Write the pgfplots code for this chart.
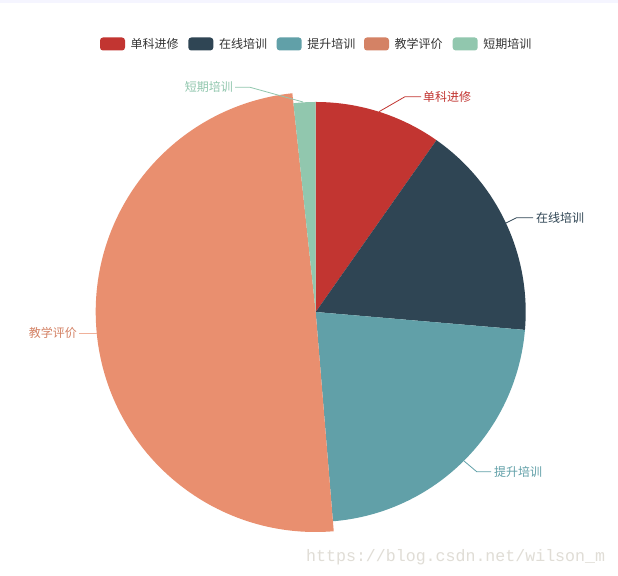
\documentclass[border=0pt]{standalone}
\usepackage{pgfplots}
\usepackage{pgfplotstable}
\pgfplotsset{compat=1.18}
\usepackage{fontspec}
\setmainfont{Liberation Sans}
\newfontfamily\cjk{Noto Sans CJK SC}
\newfontfamily\wmfont{Liberation Mono}

\definecolor{cRed}{HTML}{C23531}
\definecolor{cDark}{HTML}{2F4554}
\definecolor{cTeal}{HTML}{61A0A8}
\definecolor{cOrange}{HTML}{D48265}
\definecolor{cOrangeHi}{HTML}{E98F6F}
\definecolor{cGreen}{HTML}{91C7AE}
\definecolor{cLegText}{HTML}{333333}
\definecolor{cMark}{HTML}{E0DDD6}

% share of each category, drawn clockwise from 12 o'clock
\pgfplotstableread[col sep=comma]{
name,value,fillc,r
单科进修,35.1,cRed,210
在线培训,59.8,cDark,210
提升培训,80.4,cTeal,210
教学评价,178.6,cOrangeHi,220
短期培训,6.1,cGreen,210
}\piedata

\newcommand{\lbl}{\cjk\fontsize{12bp}{14bp}\selectfont}
\newcommand{\legitem}[3]{%
  \fill[#2, rounded corners=3bp] (axis cs:#1,525.5) rectangle (axis cs:#1+25,538.5);
  \node[cLegText, anchor=west, inner sep=0] at (axis cs:#1+30.5,532) {\lbl #3};}

\begin{document}
\begin{tikzpicture}[x=1bp,y=1bp]
\fill[white] (0,0) rectangle (618,576);
\fill[blue!4] (0,573) rectangle (618,576);

\def\total{0}
\pgfplotsforeachungrouped \i in {0,...,4}{%
  \pgfplotstablegetelem{\i}{value}\of\piedata
  \pgfmathsetmacro\total{\total+\pgfplotsretval}%
}

\begin{axis}[
  at={(0,0)}, anchor=south west,
  scale only axis, width=618bp, height=576bp,
  xmin=0, xmax=618, ymin=0, ymax=576,
  hide axis, clip=false
]
\def\cum{0}
\pgfplotsforeachungrouped \i in {0,...,4}{%
  \pgfplotstablegetelem{\i}{value}\of\piedata \let\sv\pgfplotsretval
  \pgfplotstablegetelem{\i}{fillc}\of\piedata \let\fc\pgfplotsretval
  \pgfplotstablegetelem{\i}{r}\of\piedata \let\rr\pgfplotsretval
  \pgfmathsetmacro\sa{90-\cum/\total*360}%
  \pgfmathsetmacro\cum{\cum+\sv}%
  \pgfmathsetmacro\ea{90-\cum/\total*360}%
  \edef\slice{\noexpand\fill[\fc] (axis cs:315.7,264) -- ++(\sa:\rr bp)
    arc[start angle=\sa, end angle=\ea, radius=\rr bp] -- cycle;}%
  \slice
}

% leader lines and labels
\draw[cRed, line width=0.8bp] (axis cs:379,464.3) -- (axis cs:405,479.3) -- (axis cs:421,479.3);
\node[cRed, anchor=west, inner sep=0] at (axis cs:423,479.3) {\lbl 单科进修};
\draw[cDark, line width=0.8bp] (axis cs:506,353) -- (axis cs:516.7,358.3) -- (axis cs:533,358.3);
\node[cDark, anchor=west, inner sep=0] at (axis cs:536,358.3) {\lbl 在线培训};
\draw[cTeal, line width=0.8bp] (axis cs:464,115) -- (axis cs:476.7,104.3) -- (axis cs:491,104.3);
\node[cTeal, anchor=west, inner sep=0] at (axis cs:494,104.3) {\lbl 提升培训};
\draw[cOrangeHi!70, line width=0.8bp] (axis cs:96.5,243) -- (axis cs:79,243);
\node[cOrange, anchor=east, inner sep=0] at (axis cs:77,243) {\lbl 教学评价};
\draw[cGreen, line width=0.8bp] (axis cs:303,474) -- (axis cs:250,488.7) -- (axis cs:235,488.7);
\node[cGreen, anchor=east, inner sep=0] at (axis cs:233,488.7) {\lbl 短期培训};

% legend
\legitem{100}{cRed}{单科进修}
\legitem{188.3}{cDark}{在线培训}
\legitem{276.7}{cTeal}{提升培训}
\legitem{364}{cOrange}{教学评价}
\legitem{452.7}{cGreen}{短期培训}

\node[cMark, anchor=base west, inner sep=0] at (axis cs:306,14.5) {\wmfont\fontsize{16.6bp}{18bp}\selectfont https://blog.csdn.net/wilson\_m};
\end{axis}
\pgfresetboundingbox
\path (0,0) rectangle (618,576);
\end{tikzpicture}
\end{document}
